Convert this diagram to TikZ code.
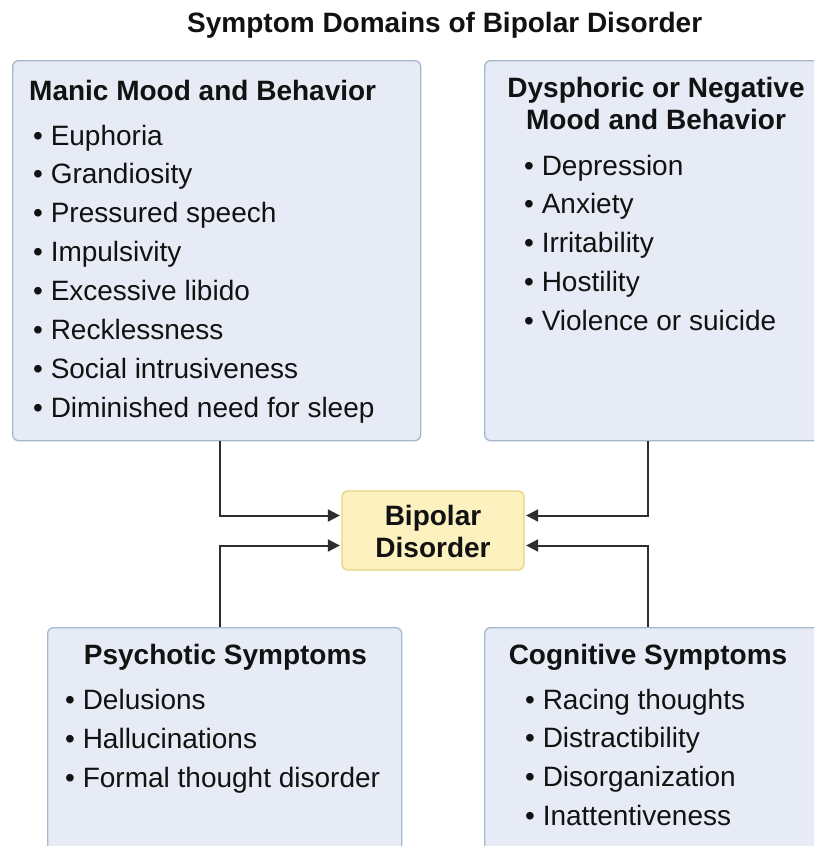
\documentclass[tikz,border=0pt]{standalone}
\usepackage{fontspec}
\setmainfont{Liberation Sans}
\usetikzlibrary{arrows.meta}
\definecolor{boxfill}{HTML}{E7EBF6}
\definecolor{boxline}{HTML}{A6B8CE}
\definecolor{bdfill}{HTML}{FCF1BF}
\definecolor{bdline}{HTML}{E8D47C}
\definecolor{conncol}{HTML}{2E2E2E}
\definecolor{txt}{HTML}{121212}
\begin{document}
\begin{tikzpicture}[x=1pt,y=-1pt,
  sdbox/.style={draw=boxline, fill=boxfill, line width=1.3pt, rounded corners=6pt, inner sep=0pt, anchor=north west},
  hubbox/.style={draw=bdline, fill=bdfill, line width=1.3pt, rounded corners=6pt, inner sep=0pt,
     minimum width=182pt, minimum height=79pt},
  hdtext/.style={font=\fontsize{28}{34}\selectfont\bfseries, text=txt, inner sep=0pt, anchor=base},
  hdleft/.style={hdtext, anchor=base west},
  itemtext/.style={font=\fontsize{28}{34}\selectfont, text=txt, inner sep=0pt, anchor=base west},
  connarrow/.style={draw=conncol, line width=2pt, -{Triangle[length=12pt,width=12pt]}, shorten >=1.5pt}]
\useasboundingbox (0,0) rectangle (814,846);
\fill[white] (0,0) rectangle (814,846);
\clip (0,0) rectangle (814,846);

% title
\node[hdleft] (title) at (187,32) {Symptom Domains of Bipolar Disorder};

% boxes
\node[sdbox, minimum width=408pt, minimum height=380pt] (manic) at (12,60) {};
\node[sdbox, minimum width=360pt, minimum height=380pt] (dysph) at (484,60) {};
\node[sdbox, minimum width=354pt, minimum height=260pt] (psych) at (47,627) {};
\node[sdbox, minimum width=360pt, minimum height=260pt] (cogn) at (484,627) {};
\node[hubbox] (bd) at (433,530.5) {};

% manic text
\node[hdleft] (mh) at (29,100) {Manic Mood and Behavior};
\foreach \t [count=\i from 0] in {Euphoria, Grandiosity, Pressured speech, Impulsivity, Excessive libido, Recklessness, Social intrusiveness, Diminished need for sleep}
  \node[itemtext] (m\i) at (33,145+38.86*\i) {\textbullet\ \t};

% dysphoric text
\node[hdtext] (dh1) at (656,97) {Dysphoric or Negative};
\node[hdtext] (dh2) at (656,129) {Mood and Behavior};
\foreach \t [count=\i from 0] in {Depression, Anxiety, Irritability, Hostility, Violence or suicide}
  \node[itemtext] (d\i) at (524,175+38.75*\i) {\textbullet\ \t};

% psychotic text
\node[hdtext] (ph) at (225.5,664) {Psychotic Symptoms};
\foreach \t [count=\i from 0] in {Delusions, Hallucinations, Formal thought disorder}
  \node[itemtext] (p\i) at (65,709+39*\i) {\textbullet\ \t};

% cognitive text
\node[hdtext] (ch) at (648,664) {Cognitive Symptoms};
\foreach \t [count=\i from 0] in {Racing thoughts, Distractibility, Disorganization, Inattentiveness}
  \node[itemtext] (c\i) at (525,709+38.7*\i) {\textbullet\ \t};

% hub text
\node[hdtext] (bd1) at (433,525) {Bipolar};
\node[hdtext] (bd2) at (433,557) {Disorder};

% connectors
\coordinate (xl) at (220,0);
\coordinate (xr) at (648,0);
\draw[connarrow] (manic.south -| xl) |- ([yshift=15pt]bd.west);
\draw[connarrow] (psych.north -| xl) |- ([yshift=-15pt]bd.west);
\draw[connarrow] (dysph.south -| xr) |- ([yshift=15pt]bd.east);
\draw[connarrow] (cogn.north -| xr) |- ([yshift=-15pt]bd.east);
\end{tikzpicture}
\end{document}
